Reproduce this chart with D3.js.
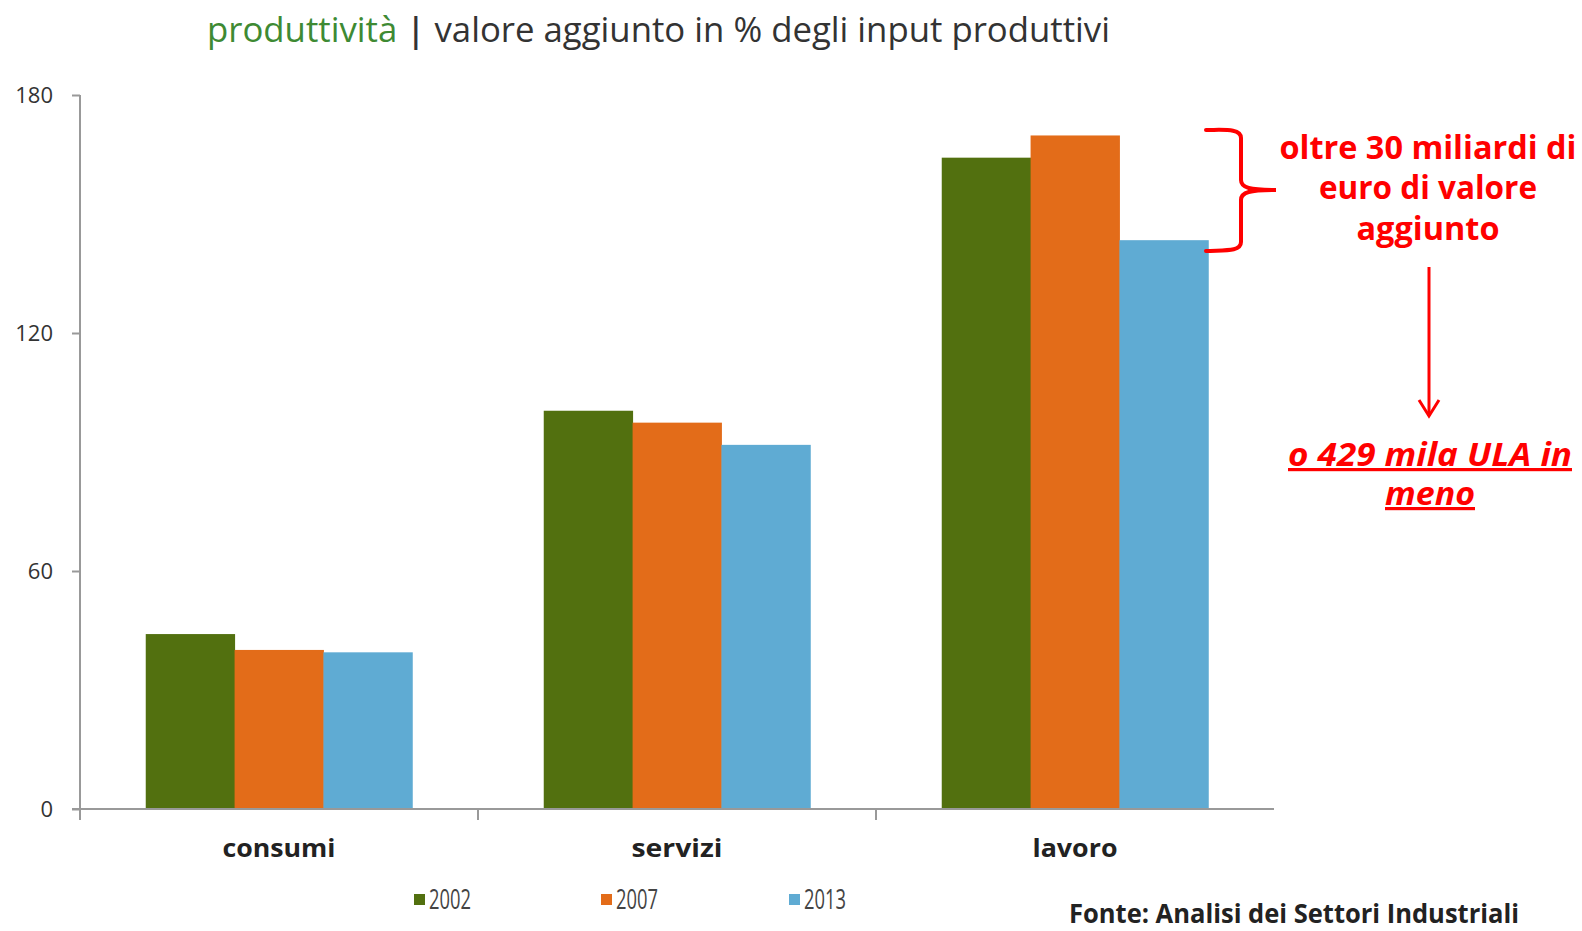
<!DOCTYPE html>
<html>
<head>
<meta charset="utf-8">
<script src="https://cdn.jsdelivr.net/npm/d3@7"></script>
<style>
  body { margin: 0; background: #fff; }
  text { font-family: "Open Sans", "Noto Sans", sans-serif; }
</style>
</head>
<body>
<script>
// Data
const categories = ["consumi", "servizi", "lavoro"];
const years = ["2002", "2007", "2013"];
const v2002 = [44.1, 100.4, 164.2];
const v2007 = [40.1, 97.4, 169.8];
const v2013 = [39.5, 91.8, 143.4];
const yTicks = [0, 60, 120, 180];
const colors = ["#52700f", "#e36c19", "#5fabd3"];

const series = [v2002, v2007, v2013];
const rows = categories.map((c, i) => ({ cat: c, vals: series.map(s => s[i]) }));

const W = 1582, H = 931;
const margin = { top: 95, left: 80, right: 308, bottom: 122 };

const svg = d3.select("body").append("svg")
    .attr("width", W)
    .attr("height", H);

// squeeze text to a measured width (the original uses a condensed face)
const fit = (sel, w) => sel.attr("textLength", w).attr("lengthAdjust", "spacingAndGlyphs");

// title
const title = svg.append("text")
    .attr("x", 207).attr("y", 42)
    .attr("font-size", 35);
title.append("tspan").attr("fill", "#3e8a33").text("produttività");
title.append("tspan").attr("fill", "#333").attr("font-weight", 600).text(" | ");
title.append("tspan").attr("fill", "#333").text("valore aggiunto in % degli input produttivi");
fit(title, 903);

const x0 = d3.scaleBand()
    .domain(categories)
    .range([margin.left, W - margin.right])
    .padding(0);

const x1 = d3.scaleBand()
    .domain(years)
    .range([0, x0.bandwidth()])
    .paddingInner(0)
    .paddingOuter(0.74);

const y = d3.scaleLinear()
    .domain([0, 180])
    .range([H - margin.bottom, margin.top]);

// y axis
const yAxis = svg.append("g")
    .attr("transform", `translate(${margin.left},0)`)
    .call(d3.axisLeft(y).tickValues(yTicks).tickSize(8).tickPadding(19));
yAxis.select(".domain").attr("stroke", "#999").attr("stroke-width", 2)
    .attr("d", `M0,${y(180)}V${y(0) + 11}`);
yAxis.selectAll(".tick line").attr("stroke", "#999").attr("stroke-width", 2);
yAxis.selectAll(".tick text")
    .attr("font-size", 22)
    .attr("fill", "#333")
    .attr("font-family", "'Open Sans', sans-serif");

// bars
const groups = svg.selectAll(".grp")
    .data(rows)
    .enter().append("g")
    .attr("transform", d => `translate(${x0(d.cat)},0)`);

groups.selectAll("rect")
    .data(d => d.vals.map((v, i) => ({ year: years[i], v, i })))
    .enter().append("rect")
    .attr("x", d => x1(d.year))
    .attr("width", x1.bandwidth() + 0.5)
    .attr("y", d => y(d.v))
    .attr("height", d => y(0) - y(d.v))
    .attr("fill", d => colors[d.i]);

// x axis
const xAxis = svg.append("g")
    .attr("transform", `translate(0,${y(0)})`)
    .call(d3.axisBottom(x0).tickSize(0).tickPadding(30));
xAxis.select(".domain").attr("stroke", "#999").attr("stroke-width", 2)
    .attr("d", `M${margin.left - 8},0H${W - margin.right}`);
const catWidths = { consumi: 113, servizi: 91, lavoro: 85 };
xAxis.selectAll(".tick text")
    .attr("font-size", 25)
    .attr("font-weight", "bold")
    .attr("fill", "#222")
    .each(function (d) { fit(d3.select(this), catWidths[d]); });

// boundary ticks between categories
svg.selectAll(".btick")
    .data(categories.slice(1))
    .enter().append("line")
    .attr("x1", d => x0(d)).attr("x2", d => x0(d))
    .attr("y1", y(0)).attr("y2", y(0) + 11)
    .attr("stroke", "#999").attr("stroke-width", 2);

// legend
const legendX = [414, 601, 789];
const legend = svg.selectAll(".leg")
    .data(years)
    .enter().append("g")
    .attr("transform", (d, i) => `translate(${legendX[i]},899)`);
legend.append("rect")
    .attr("x", 0).attr("y", -5)
    .attr("width", 11).attr("height", 11)
    .attr("fill", (d, i) => colors[i]);
legend.append("text")
    .attr("x", 15).attr("y", 10)
    .attr("font-size", 27)
    .attr("fill", "#444")
    .text(d => d)
    .each(function () { fit(d3.select(this), 42); });

// source
fit(svg.append("text")
    .attr("x", 1069).attr("y", 923)
    .attr("font-size", 27)
    .attr("font-weight", "bold")
    .attr("fill", "#222")
    .text("Fonte: Analisi dei Settori Industriali"), 450);

// annotation
const red = "#ff0000";
svg.append("path")
    .attr("d", "M1206,130 C1224,130 1241,128 1241,138 L1241,180 C1241,188 1250,190 1276,190 C1250,190 1241,192 1241,200 L1241,242 C1241,252 1224,250 1206,251")
    .attr("fill", "none").attr("stroke", red).attr("stroke-width", 4).attr("stroke-linecap", "round");

const noteA = [["oltre 30 miliardi di", 148, 297], ["euro di valore", 188, 218], ["aggiunto", 229, 143]];
noteA.forEach(([t, yy, w]) => {
    fit(svg.append("text")
        .attr("x", 1428).attr("y", yy + 11)
        .attr("text-anchor", "middle")
        .attr("font-size", 32)
        .attr("font-weight", "bold")
        .attr("fill", red)
        .text(t), w);
});

svg.append("line")
    .attr("x1", 1429).attr("x2", 1429)
    .attr("y1", 267).attr("y2", 416)
    .attr("stroke", red).attr("stroke-width", 3);
svg.append("path")
    .attr("d", "M1419,400 L1429,416 L1439,400")
    .attr("fill", "none").attr("stroke", red).attr("stroke-width", 3);

const noteB = [["o 429 mila ULA in", 455, 284], ["meno", 494, 90]];
noteB.forEach(([t, yy, w]) => {
    fit(svg.append("text")
        .attr("x", 1430).attr("y", yy + 11)
        .attr("text-anchor", "middle")
        .attr("font-size", 32)
        .attr("font-weight", "bold")
        .attr("font-style", "italic")
        .attr("text-decoration", "underline")
        .attr("fill", red)
        .text(t), w);
});
</script>
</body>
</html>
